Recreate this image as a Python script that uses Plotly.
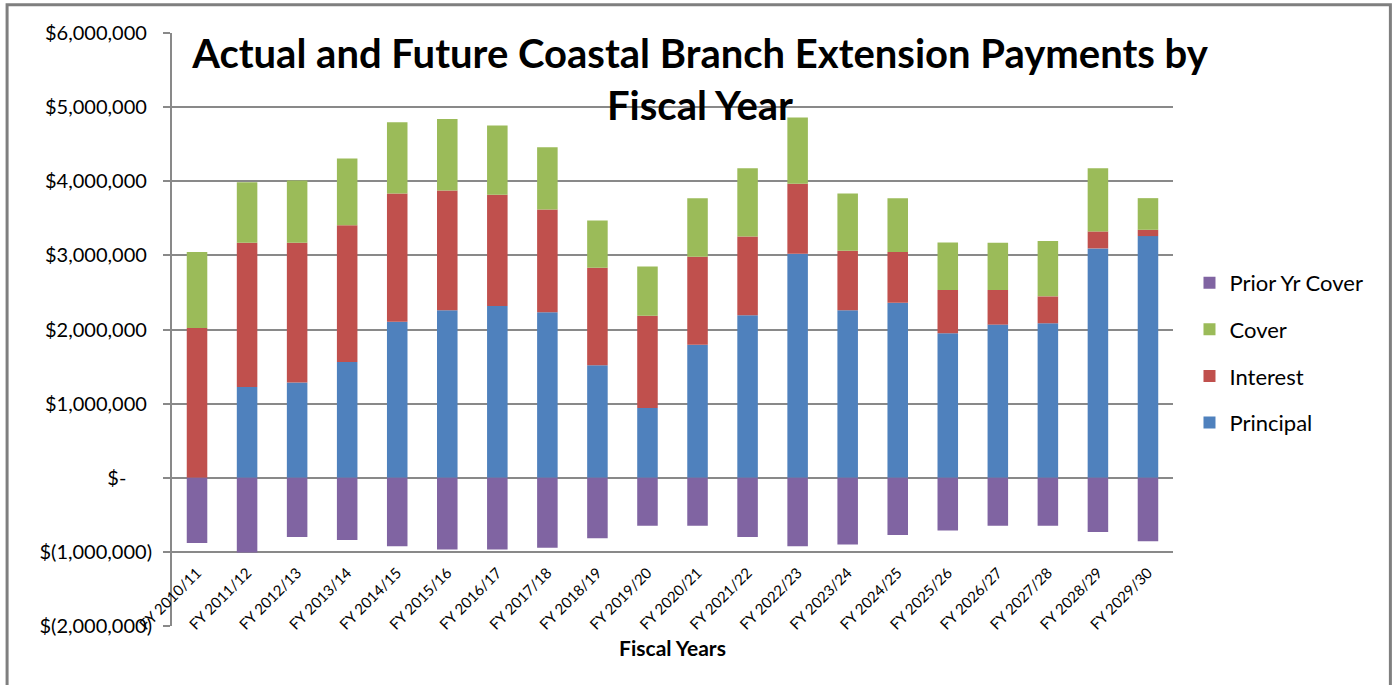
import plotly.graph_objects as go

years = ["FY 2010/11", "FY 2011/12", "FY 2012/13", "FY 2013/14", "FY 2014/15",
         "FY 2015/16", "FY 2016/17", "FY 2017/18", "FY 2018/19", "FY 2019/20",
         "FY 2020/21", "FY 2021/22", "FY 2022/23", "FY 2023/24", "FY 2024/25",
         "FY 2025/26", "FY 2026/27", "FY 2027/28", "FY 2028/29", "FY 2029/30"]

principal = [0, 1223000, 1286000, 1562000, 2106000, 2259000, 2317000, 2232000, 1518000, 942000,
             1795000, 2191000, 3022000, 2259000, 2362000, 1950000, 2066000, 2084000, 3094000, 3260000]
interest = [2020000, 1947000, 1884000, 1846000, 1729000, 1616000, 1500000, 1387000, 1315000, 1245000,
            1187000, 1065000, 943000, 803000, 682000, 583000, 467000, 363000, 229000, 85000]
cover = [1024000, 817000, 840000, 898000, 961000, 965000, 934000, 840000, 638000, 664000,
         790000, 920000, 894000, 773000, 728000, 642000, 637000, 746000, 853000, 427000]
prior_cover = [-879000, -1009000, -800000, -839000, -924000, -969000, -969000, -946000, -817000, -647000,
               -647000, -799000, -924000, -902000, -772000, -710000, -647000, -647000, -732000, -857000]

y_ticks = [6000000, 5000000, 4000000, 3000000, 2000000, 1000000, 0, -1000000, -2000000]
y_tick_text = ["$6,000,000\u00a0", "$5,000,000\u00a0", "$4,000,000\u00a0", "$3,000,000\u00a0",
               "$2,000,000\u00a0", "$1,000,000\u00a0", "$-\u00a0\u00a0\u00a0\u00a0\u00a0",
               "$(1,000,000)", "$(2,000,000)"]
boundary_ticks = [i + 0.5 for i in range(len(years))]

FONT = "Lato, 'Open Sans', sans-serif"
GRID = "#898989"

series = [
    ("Principal", principal, "#4F81BD", 4),
    ("Interest", interest, "#C0504D", 3),
    ("Cover", cover, "#9BBB59", 2),
    ("Prior Yr Cover", prior_cover, "#8064A2", 1),
]

fig = go.Figure()
for name, vals, color, rank in series:
    fig.add_trace(go.Bar(x=years, y=vals, name=name, marker=dict(color=color, line=dict(width=0)),
                         legendgroup=name, legendrank=rank))

W, H = 1398, 685
L, R = 172, 1398 - 1173.5
T, B = 33.3, 685 - 625.7
pw, ph = W - L - R, H - T - B

fig.update_layout(
    width=W, height=H,
    margin=dict(l=L, r=R, t=T, b=B, pad=0),
    paper_bgcolor="white", plot_bgcolor="white",
    barmode="relative", bargap=0.59,
    font=dict(family=FONT, color="black"),
    title=dict(text="Actual and Future Coastal Branch Extension Payments by<br>Fiscal Year",
               x=700 / W, xref="container", xanchor="center",
               y=1 - 68 / H, yref="container", yanchor="top",
               font=dict(family=FONT, size=40, color="black", weight="bold")),
    xaxis=dict(type="category", categoryorder="array", categoryarray=years,
               range=[-0.5, len(years) - 0.5],
               anchor="free", position=(625.7 - 560) / ph,
               showline=False, ticks="", showgrid=False, tickangle=-45,
               tickfont=dict(family=FONT, size=15, color="black"),
               title=dict(text="<b>Fiscal Years</b>", font=dict(family=FONT, size=21, color="black"),
                          standoff=9),
               automargin=False),
    xaxis2=dict(overlaying="x", anchor="free", position=2000000 / 8000000,
                range=[-0.5, len(years) - 0.5], tickmode="array", tickvals=boundary_ticks,
                ticks="outside", ticklen=4, tickcolor=GRID, tickwidth=1.5,
                showticklabels=False, showgrid=False, showline=False, zeroline=False),
    yaxis=dict(range=[-2000000, 6000000], tickmode="array", tickvals=y_ticks, ticktext=y_tick_text,
               showgrid=True, gridcolor=GRID, gridwidth=1.5,
               zeroline=True, zerolinecolor=GRID, zerolinewidth=2,
               showline=True, linecolor=GRID, linewidth=2,
               ticks="outside", ticklen=7, tickcolor=GRID, tickwidth=1.5,
               ticklabelstandoff=7,
               tickfont=dict(family=FONT, size=20, color="black"),
               automargin=False),
    legend=dict(x=(1190 - L) / pw, xanchor="left", y=1 - (262 - T) / ph, yanchor="top",
                traceorder="grouped", tracegroupgap=15,
                font=dict(family=FONT, size=22, color="black"),
                bgcolor="rgba(0,0,0,0)"),
    showlegend=True,
    shapes=[dict(type="rect", xref="paper", yref="paper",
                 x0=(7 - L) / pw, x1=(1391 - L) / pw,
                 y0=-0.2, y1=1 + (T - 5) / ph,
                 line=dict(color="#7f7f7f", width=3), layer="below")],
)

fig.write_html("out.html", config={"displayModeBar": False},
               post_script="document.body.style.margin='0';")
